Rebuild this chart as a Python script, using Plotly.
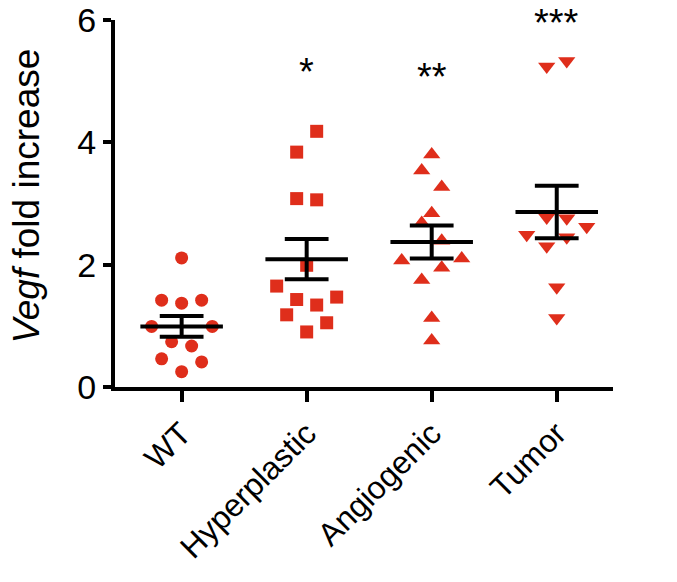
import plotly.graph_objects as go

categories = ["WT", "Hyperplastic", "Angiogenic", "Tumor"]

wt_values = [2.11, 1.42, 1.37, 1.42, 0.99, 0.99, 0.74, 0.67, 0.46, 0.41, 0.25]
hyper_values = [4.18, 3.84, 3.08, 3.06, 1.99, 1.65, 1.47, 1.43, 1.34, 1.18, 1.05, 0.90]
angio_values = [3.80, 3.54, 3.27, 2.84, 2.68, 2.39, 2.07, 2.10, 1.95, 1.75, 1.13, 0.76]
tumor_values = [5.24, 5.33, 2.77, 2.76, 2.62, 2.49, 2.45, 2.30, 1.63, 1.13]

# horizontal scatter offsets (category units) of each point in the dot plot
wt_offset = [0, -0.16, 0, 0.16, -0.24, 0.245, -0.08, 0.08, -0.16, 0.16, 0]
hyper_offset = [0.08, -0.08, -0.08, 0.08, 0, -0.24, 0.24, -0.08, 0.08, -0.16, 0.16, 0]
angio_offset = [0, -0.08, 0.08, 0, -0.08, 0.08, -0.24, 0.24, 0.08, -0.08, 0, 0]
tumor_offset = [-0.08, 0.08, -0.08, 0.08, 0.24, -0.24, 0.08, -0.08, 0, 0]

means = [0.99, 2.09, 2.37, 2.86]
sems = [0.17, 0.33, 0.27, 0.43]

sig_labels = ["", "*", "**", "***"]
sig_y = [0, 5.30, 5.21, 6.10]

y_ticks = [0, 2, 4, 6]

FONT = "Liberation Sans, Arial, sans-serif"
RED = "#DF2E1B"
groups = [
    (wt_values, wt_offset, "circle", 13),
    (hyper_values, hyper_offset, "square", 13),
    (angio_values, angio_offset, "triangle-up", 15),
    (tumor_values, tumor_offset, "triangle-down", 15),
]

fig = go.Figure()
for i, (vals, offs, sym, sz) in enumerate(groups):
    fig.add_trace(go.Scatter(
        x=[i + o for o in offs], y=vals, mode="markers",
        marker=dict(symbol=sym, size=sz, color=RED, line=dict(width=0)),
        showlegend=False, hoverinfo="y"))

MEAN_HW = 0.33
SEM_HW = 0.175
lx, ly = [], []
for i, (m, s) in enumerate(zip(means, sems)):
    lx += [i - MEAN_HW, i + MEAN_HW, None]
    ly += [m, m, None]
    lx += [i - SEM_HW, i + SEM_HW, None]
    ly += [m + s, m + s, None]
    lx += [i - SEM_HW, i + SEM_HW, None]
    ly += [m - s, m - s, None]
    lx += [i, i, None]
    ly += [m - s, m + s, None]
fig.add_trace(go.Scatter(x=lx, y=ly, mode="lines",
                         line=dict(color="black", width=4),
                         showlegend=False, hoverinfo="skip"))

y_max = y_ticks[-1]
for i, (lab, yy) in enumerate(zip(sig_labels, sig_y)):
    if lab:
        fig.add_annotation(
            x=i, xref="x", y=yy / y_max, yref="paper",
            text=lab, showarrow=False, xanchor="center", yanchor="middle",
            yshift=-9,
            font=dict(size=38, color="black", family=FONT))

fig.add_annotation(
    xref="paper", yref="paper", x=-0.178, y=0.52,
    xanchor="center", yanchor="middle", textangle=-90,
    text="<i>Vegf</i> fold increase", showarrow=False,
    font=dict(size=37, color="black", family=FONT))

# the page body has an 8px default margin, so the figure is 8px smaller
fig.update_layout(
    width=669, height=574,
    margin=dict(l=107, r=64, t=12, b=195, autoexpand=False),
    paper_bgcolor="white", plot_bgcolor="white",
    font=dict(family=FONT, color="black"),
    xaxis=dict(
        range=[-0.533, 3.45], tickmode="array",
        tickvals=list(range(len(categories))), ticktext=categories,
        tickangle=-45, tickfont=dict(size=32),
        showline=True, linecolor="black", linewidth=4,
        ticks="outside", ticklen=11, tickwidth=4, tickcolor="black",
        showgrid=False, zeroline=False, automargin=False,
        ticklabeloverflow="allow"),
    yaxis=dict(
        range=[0, y_max], tickmode="array", tickvals=y_ticks,
        tickfont=dict(size=34),
        showline=True, linecolor="black", linewidth=4,
        ticks="outside", ticklen=8, tickwidth=4, tickcolor="black",
        showgrid=False, zeroline=False, automargin=False,
        ticklabeloverflow="allow"),
)

fig.write_html("out.html")
